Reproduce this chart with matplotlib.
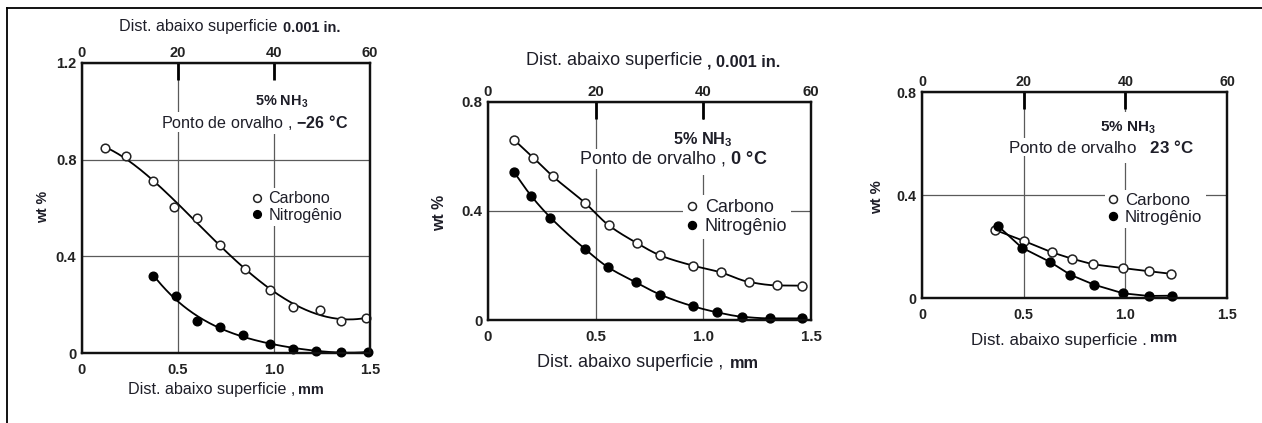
import numpy as np
import matplotlib
matplotlib.use("Agg")
import matplotlib.pyplot as plt
from matplotlib.lines import Line2D
from matplotlib.patches import Rectangle

plt.rcParams['font.family'] = ['Liberation Sans', 'DejaVu Sans']
plt.rcParams['mathtext.fontset'] = 'custom'
plt.rcParams['mathtext.rm'] = 'Liberation Sans'
plt.rcParams['mathtext.bf'] = 'Liberation Sans:bold'

# ---------------- data ----------------
x_ticks = [0, 0.5, 1.0, 1.5]
x_ticklabels = ['0', '0.5', '1.0', '1.5']
top_ticks = [0, 20, 40, 60]
top_ticklabels = ['0', '20', '40', '60']

# Panel 1 : dew point -26 C
p1_c_x = [0.12, 0.23, 0.37, 0.48, 0.60, 0.72, 0.85, 0.98, 1.10, 1.24, 1.35, 1.48]
p1_c_y = [0.848, 0.814, 0.713, 0.606, 0.56, 0.448, 0.346, 0.261, 0.19, 0.178, 0.131, 0.146]
p1_n_x = [0.37, 0.49, 0.60, 0.72, 0.84, 0.98, 1.10, 1.22, 1.35, 1.49]
p1_n_y = [0.32, 0.236, 0.134, 0.106, 0.073, 0.039, 0.018, 0.008, 0.004, 0.004]
p1_yticks = [0, 0.4, 0.8, 1.2]
p1_yticklabels = ['0', '0.4', '0.8', '1.2']

# Panel 2 : dew point 0 C
p2_c_x = [0.12, 0.21, 0.30, 0.45, 0.56, 0.69, 0.80, 0.95, 1.08, 1.21, 1.34, 1.46]
p2_c_y = [0.662, 0.596, 0.528, 0.43, 0.348, 0.283, 0.237, 0.2, 0.175, 0.14, 0.127, 0.126]
p2_n_x = [0.12, 0.20, 0.29, 0.45, 0.555, 0.685, 0.80, 0.95, 1.065, 1.18, 1.31, 1.46]
p2_n_y = [0.544, 0.456, 0.376, 0.261, 0.195, 0.139, 0.093, 0.051, 0.028, 0.012, 0.006, 0.006]

# Panel 3 : dew point 23 C
p3_c_x = [0.36, 0.50, 0.64, 0.74, 0.84, 0.99, 1.115, 1.225]
p3_c_y = [0.264, 0.222, 0.177, 0.152, 0.131, 0.116, 0.104, 0.094]
p3_n_x = [0.375, 0.49, 0.63, 0.73, 0.845, 0.99, 1.115, 1.23]
p3_n_y = [0.279, 0.196, 0.14, 0.09, 0.052, 0.018, 0.008, 0.009]
p23_yticks = [0, 0.4, 0.8]
p23_yticklabels = ['0', '0.4', '0.8']

legend_labels = ['Carbono', 'Nitrogênio']
xlabel_main = 'Dist. abaixo superficie'
ylabel = 'wt %'
gas_label = r'5% NH$_\mathbf{3}$'
dew_labels = ['Ponto de orvalho , $\\mathbf{\u221226\\ \u00b0C}$',
              'Ponto de orvalho , $\\mathbf{0\\ \u00b0C}$',
              'Ponto de orvalho   $\\mathbf{23\\ \u00b0C}$']

TXT = '#1e1e28'
TCK = '#222222'
GRID = '#5a5a5a'


def pchip(x, y, n=200):
    x = np.asarray(x, float); y = np.asarray(y, float)
    h = np.diff(x); d = np.diff(y) / h
    m = np.zeros_like(y)
    for k in range(1, len(x) - 1):
        if d[k - 1] * d[k] > 0:
            w1 = 2 * h[k] + h[k - 1]; w2 = h[k] + 2 * h[k - 1]
            m[k] = (w1 + w2) / (w1 / d[k - 1] + w2 / d[k])
    m[0] = d[0]; m[-1] = d[-1]
    xs = np.linspace(x[0], x[-1], n)
    idx = np.clip(np.searchsorted(x, xs) - 1, 0, len(x) - 2)
    t = (xs - x[idx]) / h[idx]
    h00 = 2 * t**3 - 3 * t**2 + 1; h10 = t**3 - 2 * t**2 + t
    h01 = -2 * t**3 + 3 * t**2; h11 = t**3 - t**2
    ys = h00 * y[idx] + h10 * h[idx] * m[idx] + h01 * y[idx + 1] + h11 * h[idx] * m[idx + 1]
    return xs, ys


def polyline(x, y, deg):
    c = np.polyfit(x, y, deg)
    xs = np.linspace(x[0], x[-1], 200)
    return xs, np.polyval(c, xs)


fig = plt.figure(figsize=(12.62, 4.23), dpi=100)
W, H = 1262.0, 423.0

# figure border (top and left)
fig.add_artist(Line2D([7 / W, 7 / W], [0, 1 - 8 / H], transform=fig.transFigure, color='black', lw=1.3))
fig.add_artist(Line2D([7 / W, 1.0], [1 - 8 / H, 1 - 8 / H], transform=fig.transFigure, color='black', lw=1.3))


def make_panel(box, ylim, yticks, yticklabels, cx, cy, nx, ny, curve, fs, tfs, msz,
               top_title, xlab, ylab_pos, gas_pos, dew_pos, dew_text, leg_pos, mm_sep, blank):
    l, t, r, b = box
    ax = fig.add_axes([l / W, 1 - b / H, (r - l) / W, (b - t) / H])
    ax.set_xlim(0, 1.5)
    ax.set_ylim(*ylim)
    ax.set_xticks(x_ticks)
    ax.set_xticklabels(x_ticklabels)
    ax.set_yticks(yticks)
    ax.set_yticklabels(yticklabels)
    ax.tick_params(axis='x', length=0, pad=7, labelsize=tfs, labelcolor=TCK)
    ax.tick_params(axis='y', length=0, pad=4, labelsize=tfs, labelcolor=TCK)
    for lab in ax.get_xticklabels() + ax.get_yticklabels():
        lab.set_fontweight('bold')
    ax.grid(True, color=GRID, lw=0.9, zorder=0)
    ax.set_axisbelow(True)
    for s in ax.spines.values():
        s.set_linewidth(1.6)
        s.set_color('#111111')

    def px(xp, yp):
        return ((xp - l) / (r - l), (b - yp) / (b - t))

    # white area around the annotation (breaks the grid line as in the original)
    (bx0, by0), (bx1, by1) = px(*blank[0]), px(*blank[1])
    ax.add_patch(Rectangle((bx0, by1), bx1 - bx0, by0 - by1, transform=ax.transAxes,
                           fc='white', ec='none', zorder=1))

    # curves
    if curve == 'poly':
        xs, ys = polyline(cx, cy, 4)
        ax.plot(xs, ys, color='black', lw=1.3, zorder=2)
        xs, ys = polyline(nx, ny, 4)
        ax.plot(xs, ys, color='black', lw=1.3, zorder=2)
    elif curve == 'pchip':
        xs, ys = pchip(cx, cy)
        ax.plot(xs, ys, color='black', lw=1.3, zorder=2)
        xs, ys = pchip(nx, ny)
        ax.plot(xs, ys, color='black', lw=1.3, zorder=2)
    else:
        ax.plot(cx, cy, color='black', lw=1.3, zorder=2)
        ax.plot(nx, ny, color='black', lw=1.3, zorder=2)
    ax.plot(cx, cy, ls='none', marker='o', ms=msz, mfc='white', mec='#222222', mew=1.1, zorder=3, clip_on=False)
    ax.plot(nx, ny, ls='none', marker='o', ms=msz, mfc='black', mec='black', mew=1.0, zorder=3, clip_on=False)

    # top axis
    ax2 = ax.twiny()
    ax2.set_xlim(0, 60)
    ax2.set_xticks(top_ticks)
    ax2.set_xticklabels(top_ticklabels)
    ax2.tick_params(axis='x', direction='in', length=12, width=2, pad=2, labelsize=tfs, labelcolor=TCK)
    for lab in ax2.get_xticklabels():
        lab.set_fontweight('bold')
    ticks = ax2.xaxis.get_major_ticks()
    for tk in (ticks[0], ticks[-1]):
        tk.tick2line.set_visible(False)
    for s in ax2.spines.values():
        s.set_linewidth(1.6)
        s.set_color('#111111')

    # top title
    if top_title is not None:
        (x1, y1), (x2, y2), txt2 = top_title
        ax.text(*px(x1, y1), xlabel_main, fontsize=fs, color=TXT, ha='left', va='center', transform=ax.transAxes)
        ax.text(*px(x2, y2), txt2, fontsize=fs * 0.9, fontweight='bold', color=TXT, ha='left', va='center',
                transform=ax.transAxes)
    # bottom label
    (x1, y1), (x2, y2) = xlab
    ax.text(*px(x1, y1), xlabel_main + mm_sep, fontsize=fs, color=TXT, ha='left', va='center', transform=ax.transAxes)
    ax.text(*px(x2, y2), 'mm', fontsize=fs * 0.9, fontweight='bold', color=TXT, ha='left', va='center',
            transform=ax.transAxes)
    # y label
    ax.text(*px(*ylab_pos), ylabel, fontsize=fs * 0.88, fontweight='bold', color=TXT, rotation=90,
            ha='center', va='center', transform=ax.transAxes)
    # annotation
    ax.text(*px(*gas_pos), gas_label, fontsize=fs * 0.9, fontweight='bold', color=TXT, ha='center', va='center',
            transform=ax.transAxes, zorder=4)
    ax.text(*px(*dew_pos), dew_text, fontsize=fs, color=TXT, ha='center', va='center',
            transform=ax.transAxes, zorder=4, bbox=dict(fc='white', ec='none', pad=0.5))
    # legend
    handles = [Line2D([], [], ls='none', marker='o', ms=msz * 0.9, mfc='white', mec='#222222', mew=1.1),
               Line2D([], [], ls='none', marker='o', ms=msz * 0.9, mfc='black', mec='black')]
    fs_px = fs * 100 / 72
    lx, ly = leg_pos
    leg = ax.legend(handles, legend_labels, loc='center left',
                    bbox_to_anchor=px(lx - 0.5 * fs_px, ly), bbox_transform=ax.transAxes,
                    fontsize=fs, frameon=True, fancybox=False, framealpha=1, edgecolor='none',
                    borderpad=0.2, borderaxespad=0, handlelength=0.6, handletextpad=0.4,
                    labelspacing=0.1)
    leg.set_zorder(5)
    for tx in leg.get_texts():
        tx.set_color(TXT)
    return ax


make_panel((82, 63, 370, 353), (0, 1.2), p1_yticks, p1_yticklabels,
           p1_c_x, p1_c_y, p1_n_x, p1_n_y, 'poly', 11.6, 10.5, 6.2,
           ((119, 27), (283, 28), '0.001 in.'),
           ((128, 389), (298, 390)), (43, 207), (282, 102), (255, 122), dew_labels[0], (257, 207), ' ,',
           ((240, 76), (345, 134)))

make_panel((488, 102, 811, 320), (0, 0.8), p23_yticks, p23_yticklabels,
           p2_c_x, p2_c_y, p2_n_x, p2_n_y, 'pchip', 13.0, 10.8, 6.4,
           ((526, 61), (707, 62), ', 0.001 in.'),
           ((537, 362), (730, 363)), (440, 213), (703, 140), (673, 159), dew_labels[1], (692, 217), ' ,',
           ((655, 120), (765, 175)))

make_panel((922, 92, 1227, 298), (0, 0.8), p23_yticks, p23_yticklabels,
           p3_c_x, p3_c_y, p3_n_x, p3_n_y, 'straight', 12.2, 10.3, 6.4,
           None,
           ((971, 340), (1150, 338)), (877, 197), (1128, 128), (1101, 147), dew_labels[2], (1113, 209), ' .',
           ((1090, 112), (1200, 163)))

fig.savefig('out.png', dpi=100, facecolor='white')
